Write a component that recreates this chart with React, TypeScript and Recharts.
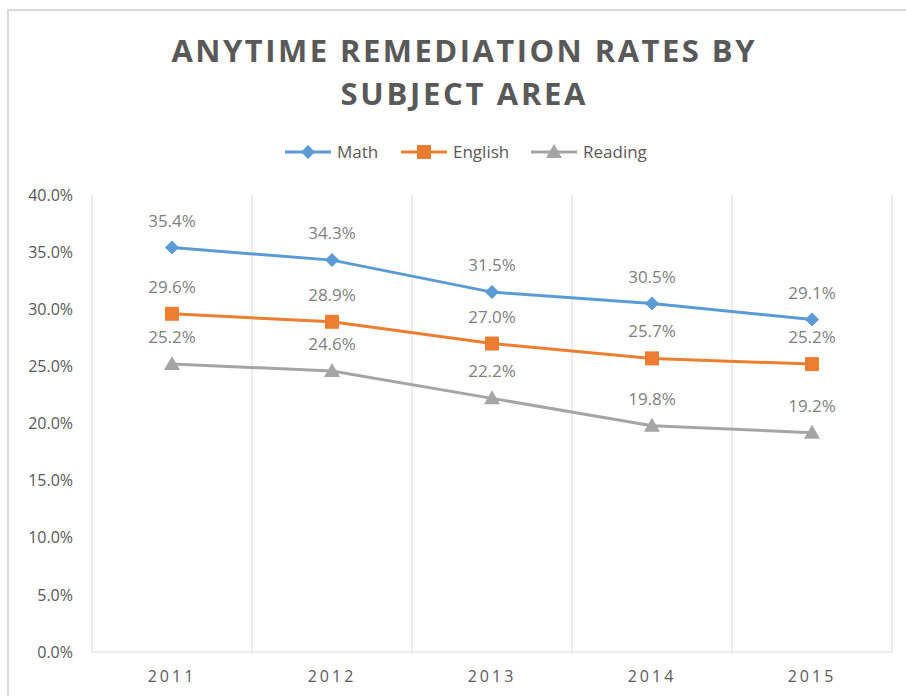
import { CartesianGrid, LabelList, Line, LineChart, XAxis, YAxis } from 'recharts';

const years = ['2011', '2012', '2013', '2014', '2015'];
const math = [35.4, 34.3, 31.5, 30.5, 29.1];
const english = [29.6, 28.9, 27.0, 25.7, 25.2];
const reading = [25.2, 24.6, 22.2, 19.8, 19.2];
const yTicks = [0, 5, 10, 15, 20, 25, 30, 35, 40];

const data = years.map((year, i) => ({
  year,
  math: math[i],
  english: english[i],
  reading: reading[i],
}));

const FONT = '"Open Sans", "Noto Sans", sans-serif';
const TEXT = '#595959';
const GRID = '#d9d9d9';

const series = [
  { key: 'math', name: 'Math', color: '#5b9bd5', shape: 'diamond' },
  { key: 'english', name: 'English', color: '#ed7d31', shape: 'square' },
  { key: 'reading', name: 'Reading', color: '#a5a5a5', shape: 'triangle' },
];

function Marker({ cx, cy, shape, color }: { cx: number; cy: number; shape: string; color: string }) {
  if (cx == null || cy == null) return null;
  if (shape === 'diamond') {
    return <polygon points={`${cx},${cy - 7} ${cx + 7},${cy} ${cx},${cy + 7} ${cx - 7},${cy}`} fill={color} />;
  }
  if (shape === 'square') {
    return <rect x={cx - 7} y={cy - 7} width={14} height={14} fill={color} />;
  }
  return <polygon points={`${cx},${cy - 8} ${cx + 8},${cy + 6} ${cx - 8},${cy + 6}`} fill={color} />;
}

function Header() {
  const items = [
    { x: 285, ...series[0] },
    { x: 401, ...series[1] },
    { x: 531, ...series[2] },
  ];
  return (
    <svg width={906} height={180} style={{ position: 'absolute', left: 0, top: 0 }}>
      <text x={463} y={62} textAnchor="middle" fontFamily={FONT} fontWeight={700} fontSize={31} fill={TEXT}
        textLength={583} lengthAdjust="spacing">
        ANYTIME REMEDIATION RATES BY
      </text>
      <text x={463} y={105} textAnchor="middle" fontFamily={FONT} fontWeight={700} fontSize={31} fill={TEXT}
        textLength={245} lengthAdjust="spacing">
        SUBJECT AREA
      </text>
      {items.map((it) => (
        <g key={it.key}>
          <line x1={it.x} x2={it.x + 46} y1={152} y2={152} stroke={it.color} strokeWidth={3} />
          <Marker cx={it.x + 23} cy={152} shape={it.shape} color={it.color} />
          <text x={it.x + 52} y={158} fontFamily={FONT} fontSize={17} fill={TEXT}>
            {it.name}
          </text>
        </g>
      ))}
    </svg>
  );
}

export default function App() {
  return (
    <div style={{ position: 'absolute', left: 0, top: 0, width: 906, height: 696, background: '#fff', overflow: 'hidden' }}>
      <div
        style={{
          position: 'absolute',
          left: 7,
          top: 9,
          width: 920,
          height: 720,
          borderLeft: `2px solid ${GRID}`,
          borderTop: `2px solid ${GRID}`,
        }}
      />
      <Header />
      <div style={{ position: 'absolute', left: 0, top: 0 }}>
        <LineChart width={906} height={696} data={data} margin={{ top: 195, right: 14, bottom: 14, left: 0 }}>
          <CartesianGrid
            horizontal={false}
            stroke={GRID}
            verticalCoordinatesGenerator={({ offset }: any) =>
              years.concat('').map((_, i) => offset.left + (i * offset.width) / years.length)
            }
          />
          <XAxis
            dataKey="year"
            height={30}
            padding={{ left: 80, right: 80 }}
            axisLine={{ stroke: GRID }}
            tickLine={false}
            tickMargin={13}
            tick={{ fill: TEXT, fontSize: 16, fontFamily: FONT, letterSpacing: 3 }}
          />
          <YAxis
            width={92}
            domain={[0, 40]}
            ticks={yTicks}
            axisLine={false}
            tickLine={false}
            tickSize={0}
            tickMargin={19}
            tickFormatter={(v: number) => `${v.toFixed(1)}%`}
            tick={{ fill: TEXT, fontSize: 16, fontFamily: FONT }}
          />
          {series.map((s) => (
            <Line
              key={s.key}
              dataKey={s.key}
              stroke={s.color}
              strokeWidth={3}
              isAnimationActive={false}
              dot={(p: any) => <Marker key={`${s.key}-${p.index}`} cx={p.cx} cy={p.cy} shape={s.shape} color={s.color} />}
              activeDot={false}
            >
              <LabelList
                dataKey={s.key}
                position="top"
                offset={21}
                formatter={(v: number) => `${v.toFixed(1)}%`}
                style={{ fill: '#7f7f7f', fontSize: 17, fontFamily: FONT }}
              />
            </Line>
          ))}
        </LineChart>
      </div>
    </div>
  );
}
